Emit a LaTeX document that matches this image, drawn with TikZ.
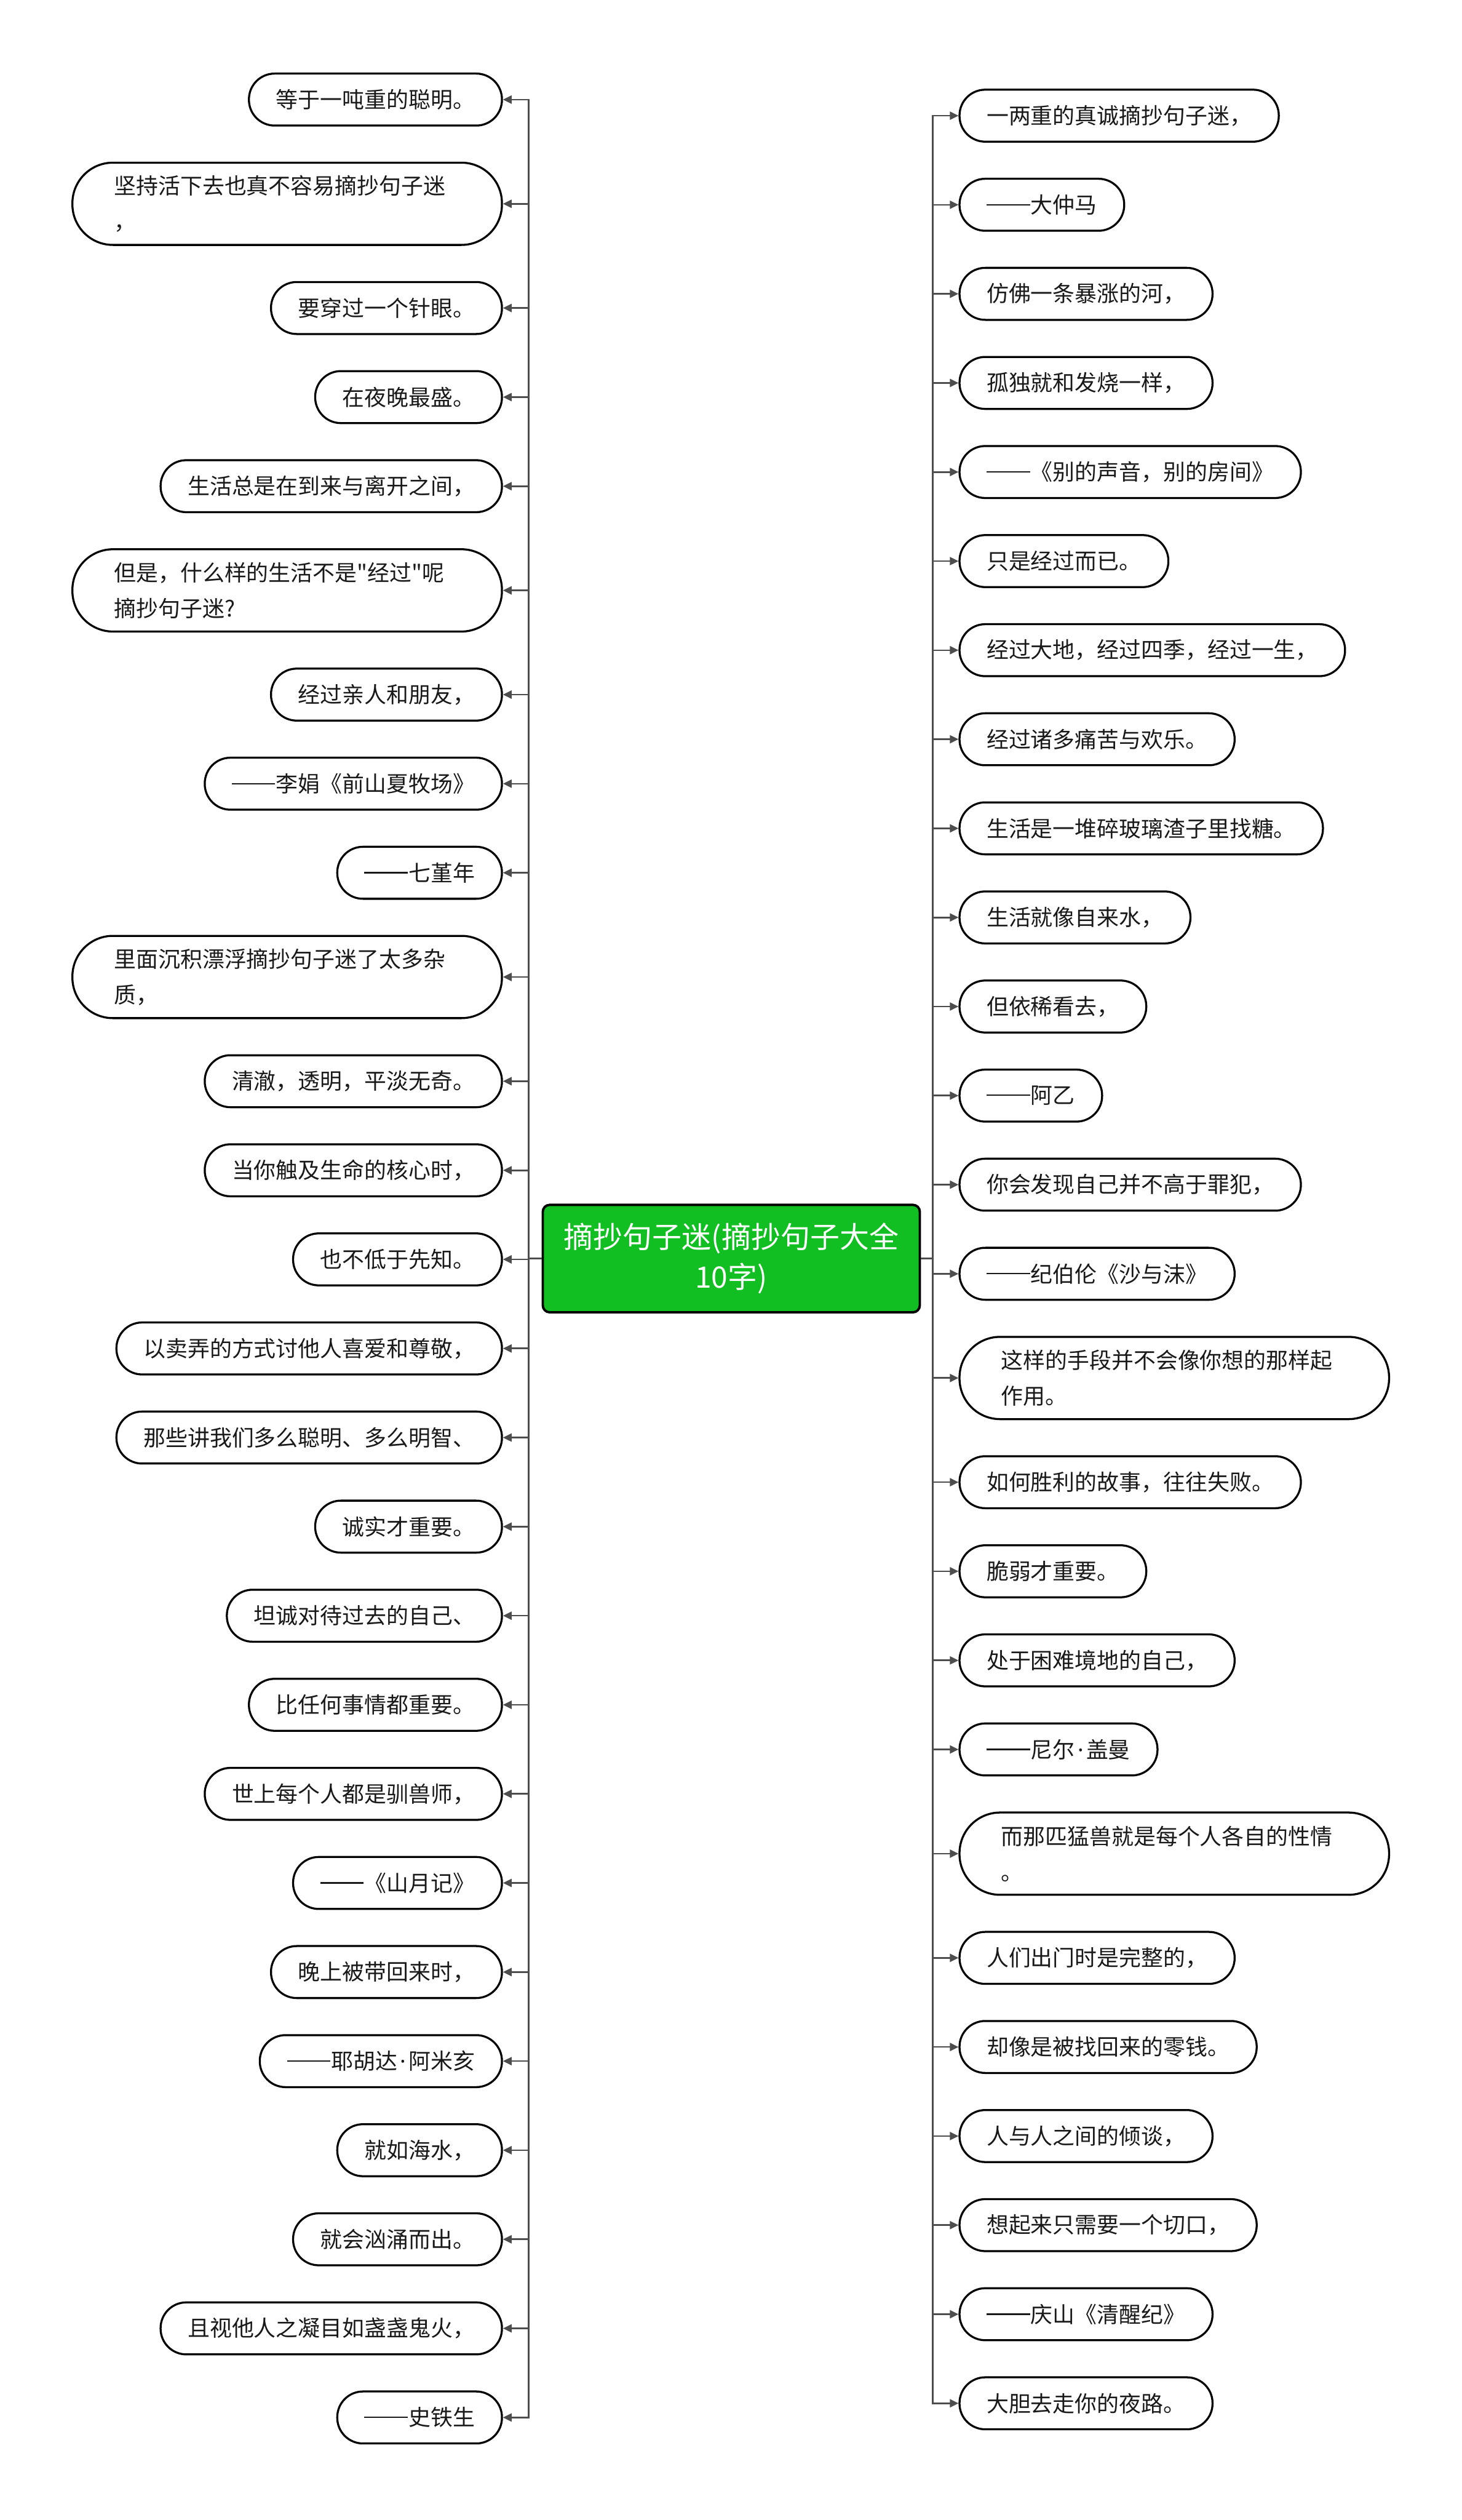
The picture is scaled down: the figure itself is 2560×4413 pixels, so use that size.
\documentclass[tikz,border=0pt]{standalone}
\usepackage{fontspec}
\newfontfamily\cjk{Noto Sans CJK SC}
\newfontfamily\latin{Noto Sans}
\usepackage{tikz}
\usetikzlibrary{positioning,arrows.meta}
\definecolor{mapgreen}{HTML}{12BF22}
\definecolor{mapline}{HTML}{4D4D4D}
\newcommand{\zhdash}{\rule[0.35em]{1.96em}{0.065em}\hspace{0.04em}}
\newcommand{\zhdot}{\hspace{0.12em}{\latin ·}\hspace{0.12em}}

\begin{document}
\begin{tikzpicture}[x=0.01cm, y=-0.01cm,
  rootbox/.style={rectangle, rounded corners=0.12cm, draw=black, line width=1.2pt,
    fill=mapgreen, text=white, minimum width=6.6cm, minimum height=1.88cm,
    align=center, font=\cjk\fontsize{14.7}{19.9}\selectfont},
  sentbox/.style={rectangle, rounded corners=0.45cm, draw=black,
    line width=1pt, fill=white, text=black!90, inner xsep=0.475cm, inner ysep=0pt,
    minimum height=0.91cm, align=left, font=\cjk\fontsize{11}{17.8}\selectfont},
  sentwide/.style={sentbox, rounded corners=0.71cm, inner xsep=0.73cm,
    minimum height=1.44cm, text width=6.06cm},
  link/.style={draw=mapline, line width=0.8pt, -{Triangle[length=4.3pt,width=4pt]}},
]
\fill[white] (0,0) rectangle (2560,4413);
\useasboundingbox (0,0) rectangle (2560,4413);

\node[rootbox] (root) at (1281,2204) {摘抄句子迷(摘抄句子大全\\10字)};
\coordinate (lbus) at (926,2204);
\coordinate (rbus) at (1634,2204);

% left branch
\foreach \y/\sty/\txt [count=\i] in {%
  174.4/sentbox/{等于一吨重的聪明。},
  356.9/sentwide/{坚持活下去也真不容易摘抄句子迷\\，},
  539.4/sentbox/{要穿过一个针眼。},
  695.4/sentbox/{在夜晚最盛。},
  851.4/sentbox/{生活总是在到来与离开之间，},
  1033.9/sentwide/{但是，什么样的生活不是"经过"呢\\摘抄句子迷?},
  1216.4/sentbox/{经过亲人和朋友，},
  1372.4/sentbox/{\zhdash 李娟《前山夏牧场》},
  1528.4/sentbox/{\zhdash 七堇年},
  1710.9/sentwide/{里面沉积漂浮摘抄句子迷了太多杂\\质，},
  1893.4/sentbox/{清澈，透明，平淡无奇。},
  2049.4/sentbox/{当你触及生命的核心时，},
  2205.4/sentbox/{也不低于先知。},
  2361.4/sentbox/{以卖弄的方式讨他人喜爱和尊敬，},
  2517.4/sentbox/{那些讲我们多么聪明、多么明智、},
  2673.4/sentbox/{诚实才重要。},
  2829.4/sentbox/{坦诚对待过去的自己、},
  2985.4/sentbox/{比任何事情都重要。},
  3141.4/sentbox/{世上每个人都是驯兽师，},
  3297.4/sentbox/{\zhdash 《山月记》},
  3453.4/sentbox/{晚上被带回来时，},
  3609.4/sentbox/{\zhdash 耶胡达\zhdot 阿米亥},
  3765.4/sentbox/{就如海水，},
  3921.4/sentbox/{就会汹涌而出。},
  4077.4/sentbox/{且视他人之凝目如盏盏鬼火，},
  4233.4/sentbox/{\zhdash 史铁生}%
} {
  \node[\sty, anchor=east] (L\i) at (881,\y) {\txt};
  \draw[link] (root.west) -- (lbus) |- (L\i.east);
}

% right branch
\foreach \y/\sty/\txt [count=\i] in {%
  202.6/sentbox/{一两重的真诚摘抄句子迷，},
  358.6/sentbox/{\zhdash 大仲马},
  514.6/sentbox/{仿佛一条暴涨的河，},
  670.6/sentbox/{孤独就和发烧一样，},
  826.6/sentbox/{\zhdash 《别的声音，别的房间》},
  982.6/sentbox/{只是经过而已。},
  1138.6/sentbox/{经过大地，经过四季，经过一生，},
  1294.6/sentbox/{经过诸多痛苦与欢乐。},
  1450.6/sentbox/{生活是一堆碎玻璃渣子里找糖。},
  1606.6/sentbox/{生活就像自来水，},
  1762.6/sentbox/{但依稀看去，},
  1918.6/sentbox/{\zhdash 阿乙},
  2074.6/sentbox/{你会发现自己并不高于罪犯，},
  2230.6/sentbox/{\zhdash 纪伯伦《沙与沫》},
  2413.1/sentwide/{这样的手段并不会像你想的那样起\\作用。},
  2595.6/sentbox/{如何胜利的故事，往往失败。},
  2751.6/sentbox/{脆弱才重要。},
  2907.6/sentbox/{处于困难境地的自己，},
  3063.6/sentbox/{\zhdash 尼尔\zhdot 盖曼},
  3246.1/sentwide/{而那匹猛兽就是每个人各自的性情\\。},
  3428.6/sentbox/{人们出门时是完整的，},
  3584.6/sentbox/{却像是被找回来的零钱。},
  3740.6/sentbox/{人与人之间的倾谈，},
  3896.6/sentbox/{想起来只需要一个切口，},
  4052.6/sentbox/{\zhdash 庆山《清醒纪》},
  4208.6/sentbox/{大胆去走你的夜路。}%
} {
  \node[\sty, anchor=west] (R\i) at (1679,\y) {\txt};
  \draw[link] (root.east) -- (rbus) |- (R\i.west);
}
\end{tikzpicture}
\end{document}
